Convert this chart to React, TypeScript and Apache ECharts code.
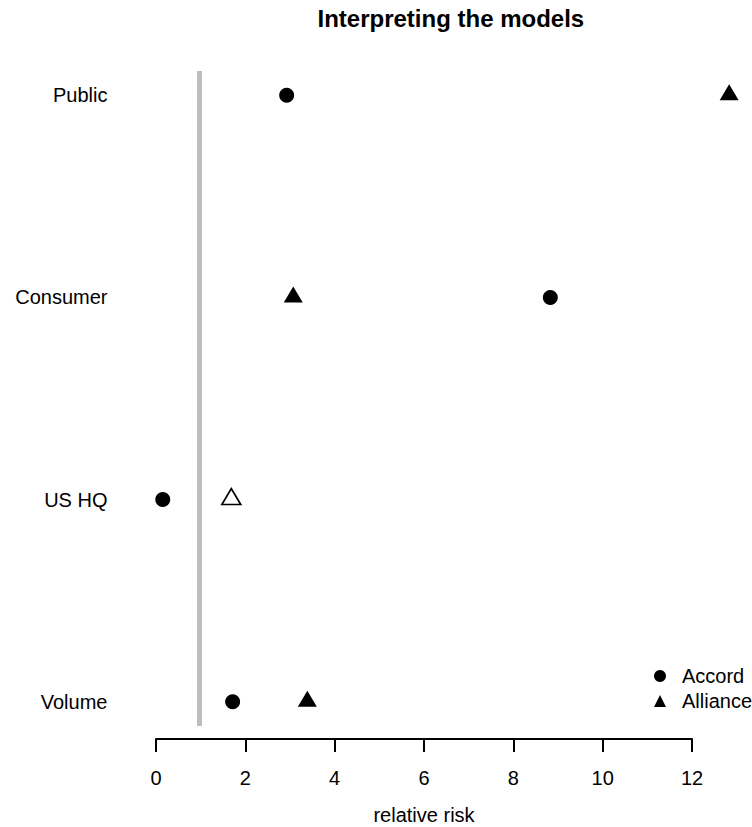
import React, { useEffect, useRef } from "react";
import * as echarts from "echarts";

// Rows, bottom to top
const categories: string[] = ["Volume", "US HQ", "Consumer", "Public"];
// Relative risk estimates
const accord: number[] = [1.75, 0.16, 8.98, 2.98];
const alliance: number[] = [3.45, 1.72, 3.13, 13.05];
const allianceFilled: boolean[] = [true, false, true, true];
const xTicks: number[] = [0, 2, 4, 6, 8, 10, 12];
const referenceValue = 1;

const FONT = "'Liberation Sans', Arial, Helvetica, sans-serif";

export default function App() {
  const ref = useRef<HTMLDivElement>(null);

  useEffect(() => {
    if (!ref.current) return;
    const chart = echarts.init(ref.current, undefined, { renderer: "svg" });

    const pxPerUnit = 44.67;
    const x0 = 156;
    const xMin = -0.37;
    const xMax = 13.57;
    const plotLeft = x0 + xMin * pxPerUnit;
    const plotWidth = (xMax - xMin) * pxPerUnit;
    const plotTop = 71;
    const plotHeight = 655;

    const accordData = accord.map((v, i) => [v, i + 1]);
    const allianceData = alliance.map((v, i) => ({
      value: [v, i + 1],
      itemStyle: allianceFilled[i]
        ? { color: "#000", opacity: 1 }
        : { color: "#fff", borderColor: "#000", borderWidth: 1.6, opacity: 1 },
    }));

    chart.setOption({
      animation: false,
      textStyle: { fontFamily: FONT, color: "#000" },
      title: {
        text: "Interpreting the models",
        left: plotLeft + plotWidth / 2,
        textAlign: "center",
        top: 6,
        padding: 0,
        textStyle: { fontFamily: FONT, fontSize: 24, fontWeight: "bold", color: "#000" },
      },
      legend: {
        orient: "vertical",
        left: 649,
        top: 661,
        itemWidth: 12,
        itemHeight: 12,
        itemGap: 5,
        itemStyle: { opacity: 1, color: "#000" },
        textStyle: { fontFamily: FONT, fontSize: 20, color: "#000", padding: [0, 0, 0, 11] },
        data: [
          { name: "Accord", icon: "circle" },
          { name: "Alliance", icon: "triangle" },
        ],
      },
      grid: [
        { left: plotLeft, top: plotTop, width: plotWidth, height: plotHeight, containLabel: false },
        { left: x0, top: 738, width: 12 * pxPerUnit, height: 1, containLabel: false },
      ],
      xAxis: [
        { gridIndex: 0, type: "value", min: xMin, max: xMax, show: false },
        {
          gridIndex: 1,
          type: "value",
          min: 0,
          max: 12,
          interval: 2,
          position: "bottom",
          axisLine: { show: true, lineStyle: { color: "#000", width: 2 } },
          axisTick: { show: true, length: 13, lineStyle: { color: "#000", width: 2 } },
          splitLine: { show: false },
          axisLabel: {
            fontFamily: FONT,
            fontSize: 20,
            color: "#000",
            margin: 29,
            customValues: xTicks,
          },
          name: "relative risk",
          nameLocation: "middle",
          nameGap: 66,
          nameTextStyle: { fontFamily: FONT, fontSize: 20, color: "#000" },
        },
      ],
      yAxis: [
        {
          gridIndex: 0,
          type: "value",
          min: 0.88,
          max: 4.12,
          axisLine: { show: false },
          axisTick: { show: false },
          splitLine: { show: false },
          axisLabel: {
            fontFamily: FONT,
            fontSize: 20,
            color: "#000",
            margin: 32,
            customValues: [1, 2, 3, 4],
            formatter: (v: number) => categories[Math.round(v) - 1] ?? "",
          },
        },
        { gridIndex: 1, type: "value", show: false, min: 0, max: 1 },
      ],
      series: [
        {
          name: "Accord",
          type: "scatter",
          xAxisIndex: 0,
          yAxisIndex: 0,
          symbol: "circle",
          symbolSize: 15,
          clip: false,
          itemStyle: { color: "#000", opacity: 1 },
          data: accordData,
          markLine: {
            silent: true,
            symbol: "none",
            label: { show: false },
            lineStyle: { color: "#bebebe", width: 5, type: "solid", opacity: 1 },
            data: [{ xAxis: referenceValue }],
          },
          z: 3,
        },
        {
          name: "Alliance",
          type: "scatter",
          xAxisIndex: 0,
          yAxisIndex: 0,
          symbol: "triangle",
          symbolSize: [19, 16],
          symbolOffset: [0, -3],
          clip: false,
          itemStyle: { color: "#000", opacity: 1 },
          data: allianceData,
          z: 3,
        },
      ],
    });

    return () => chart.dispose();
  }, []);

  return (
    <div
      ref={ref}
      style={{ position: "fixed", left: 0, top: 0, width: 752, height: 827, background: "#fff" }}
    />
  );
}
